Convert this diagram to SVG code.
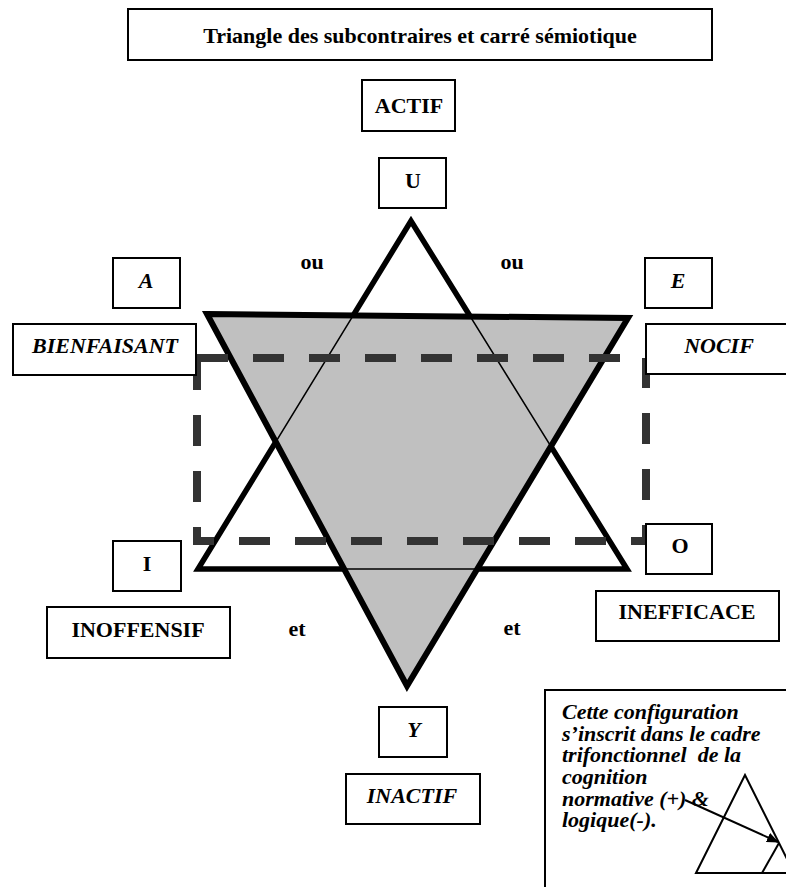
<svg xmlns="http://www.w3.org/2000/svg" width="786" height="887" viewBox="0 0 786 887">
<style>
.box{fill:#fff;stroke:#000;stroke-width:2}
.t{font-family:"Liberation Serif","Times New Roman",serif;font-size:22px;font-weight:bold;fill:#000;text-anchor:middle}
.i{font-style:italic}
.n{font-family:"Liberation Serif","Times New Roman",serif;font-size:22px;font-weight:bold;font-style:italic;fill:#000;white-space:pre}
</style>
<defs>
<marker id="ah" markerWidth="12" markerHeight="10" refX="11" refY="5" orient="auto" markerUnits="userSpaceOnUse">
<path d="M0,0 L12,5 L0,10 Z" fill="#000"/>
</marker>
</defs>
<rect width="786" height="887" fill="#fff"/>
<g id="connectors">
<polygon points="411,221 198,569 627,569" fill="none" stroke="#000" stroke-width="5.5" stroke-linejoin="miter"/>
<polygon points="207,314 628,318 407,686" fill="#c0c0c0" stroke="#000" stroke-width="6" stroke-linejoin="miter"/>
<polygon points="411,221 198,569 627,569" fill="none" stroke="#000" stroke-width="1.5"/>
<path d="M197,358 H646 V541 H197 Z" fill="none" stroke="#333" stroke-width="8" stroke-dasharray="31 25"/>
</g>
<g id="title"><rect class="box" x="128" y="9" width="584" height="51"/><text class="t" x="420" y="43">Triangle des subcontraires et carré sémiotique</text></g>
<g id="actif"><rect class="box" x="362" y="80" width="93" height="51"/><text class="t" x="409" y="113">ACTIF</text></g>
<g id="U"><rect class="box" x="379" y="158" width="67" height="50"/><text class="t" x="413" y="188">U</text></g>
<g id="ou1"><text class="t" x="312" y="269">ou</text></g>
<g id="ou2"><text class="t" x="512" y="269">ou</text></g>
<g id="A"><rect class="box" x="113" y="258" width="67" height="50"/><text class="t i" x="146" y="288">A</text></g>
<g id="E"><rect class="box" x="645" y="258" width="67" height="50"/><text class="t i" x="678" y="288">E</text></g>
<g id="bienfaisant"><rect class="box" x="13" y="324" width="183" height="51"/><text class="t i" x="105" y="353">BIENFAISANT</text></g>
<g id="nocif"><rect class="box" x="646" y="324" width="160" height="50"/><text class="t i" x="719" y="353">NOCIF</text></g>
<g id="I"><rect class="box" x="113" y="541" width="68" height="50"/><text class="t" x="147" y="571">I</text></g>
<g id="O"><rect class="box" x="646" y="524" width="66" height="50"/><text class="t" x="680" y="553">O</text></g>
<g id="inoffensif"><rect class="box" x="47" y="607" width="183" height="51"/><text class="t" x="138" y="637">INOFFENSIF</text></g>
<g id="inefficace"><rect class="box" x="596" y="591" width="183" height="50"/><text class="t" x="687" y="619">INEFFICACE</text></g>
<g id="et1"><text class="t" x="297" y="636">et</text></g>
<g id="et2"><text class="t" x="512" y="635">et</text></g>
<g id="Y"><rect class="box" x="379" y="707" width="68" height="50"/><text class="t i" x="414" y="737">Y</text></g>
<g id="inactif"><rect class="box" x="346" y="774" width="134" height="50"/><text class="t i" x="412" y="803">INACTIF</text></g>
<g id="note">
<rect class="box" x="545" y="690" width="260" height="220"/>
<text class="n" x="562" y="719">Cette configuration</text>
<text class="n" x="562" y="741">s’inscrit dans le cadre</text>
<text class="n" x="562" y="762">trifonctionnel  de la</text>
<text class="n" x="562" y="784">cognition</text>
<text class="n" x="562" y="806">normative (+) &amp;</text>
<text class="n" x="562" y="827">logique(-).</text>
<path d="M696,873 L745,775 L794,873 Z" fill="none" stroke="#000" stroke-width="2"/>
<line x1="762" y1="873" x2="779" y2="843" stroke="#000" stroke-width="2"/>
<line x1="685" y1="800" x2="778" y2="842" stroke="#000" stroke-width="2" marker-end="url(#ah)"/>
</g>
</svg>
